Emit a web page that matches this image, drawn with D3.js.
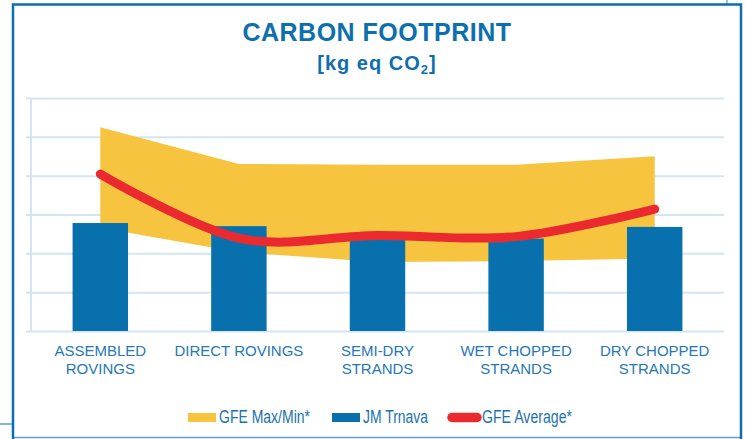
<!DOCTYPE html>
<html>
<head>
<meta charset="utf-8">
<script src="https://cdn.jsdelivr.net/npm/d3@7"></script>
<style>
  body { margin: 0; background: #fff; }
  svg { display: block; }
</style>
</head>
<body>
<svg class="mainSvg" width="745" height="439"></svg>
<script>
// chart values
var categories = ["ASSEMBLED ROVINGS", "DIRECT ROVINGS", "SEMI-DRY STRANDS", "WET CHOPPED STRANDS", "DRY CHOPPED STRANDS"];
var labelLines = [["ASSEMBLED", "ROVINGS"], ["DIRECT ROVINGS"], ["SEMI-DRY", "STRANDS"], ["WET CHOPPED", "STRANDS"], ["DRY CHOPPED", "STRANDS"]];
var gfeMax = [5.25, 4.30, 4.28, 4.28, 4.50];
var gfeMin = [2.66, 2.03, 1.78, 1.80, 1.87];
var jmTrnava = [2.78, 2.70, 2.36, 2.38, 2.68];
var gfeAverage = [4.04, 2.39, 2.46, 2.43, 3.14];
var yTicks = [0, 1, 2, 3, 4, 5, 6];
var legendNames = ["GFE Max/Min*", "JM Trnava", "GFE Average*"];

var blue = "#0871ad", yellow = "#f6c43f", red = "#ea2a2f", grid = "#d4e5f2";

var svg = d3.select(".mainSvg");

// frame
svg.append("line").attr("x1", 0).attr("x2", 13).attr("y1", 424).attr("y2", 424)
  .attr("stroke", "#86b6da").attr("stroke-width", 2);
svg.append("line").attr("x1", 727).attr("x2", 727).attr("y1", 0).attr("y2", 4)
  .attr("stroke", "#9cc4e2").attr("stroke-width", 2);
svg.append("line").attr("x1", 13).attr("x2", 741).attr("y1", 437.5).attr("y2", 437.5)
  .attr("stroke", "#5f9fcd").attr("stroke-width", 1.5);
svg.append("path").attr("d", "M13,439 V4.5 H741 V439")
  .attr("fill", "none").attr("stroke", "#0b6fae").attr("stroke-width", 2.5);

var x = d3.scaleBand().domain(categories).range([31, 724]).paddingInner(0.6).paddingOuter(0.3);
var y = d3.scaleLinear().domain([0, 6]).range([331, 98]);

// gridlines
var gAxis = svg.append("g").attr("transform", "translate(26,0)")
  .call(d3.axisLeft(y).tickValues(yTicks).tickSize(-(724 - 26)).tickFormat(""));
gAxis.select(".domain").remove();
gAxis.selectAll(".tick line").attr("stroke", grid).attr("stroke-width", 2);
svg.append("line").attr("x1", 31).attr("x2", 31).attr("y1", y(6)).attr("y2", y(0))
  .attr("stroke", grid).attr("stroke-width", 2);

var cx = function(d, i) { return x(categories[i]) + x.bandwidth() / 2; };

// max/min band
var area = d3.area()
  .x(function(d, i) { return cx(d, i); })
  .y0(function(d, i) { return y(gfeMin[i]); })
  .y1(function(d, i) { return y(gfeMax[i]); });
svg.append("path").datum(gfeMax).attr("d", area).attr("fill", yellow);

// bars
svg.selectAll("rect.bar").data(jmTrnava).enter().append("rect")
  .attr("class", "bar")
  .attr("x", function(d, i) { return x(categories[i]); })
  .attr("width", x.bandwidth())
  .attr("y", function(d) { return y(d); })
  .attr("height", function(d) { return y(0) - y(d); })
  .attr("fill", blue);

// average line (smoothed like excel)
var line = d3.line()
  .x(function(d, i) { return cx(d, i); })
  .y(function(d) { return y(d); })
  .curve(d3.curveCatmullRom.alpha(0));
svg.append("path").datum(gfeAverage).attr("d", line)
  .attr("fill", "none").attr("stroke", red).attr("stroke-width", 9)
  .attr("stroke-linecap", "round");

// titles
svg.append("text").attr("x", 377).attr("y", 40.7).attr("text-anchor", "middle")
  .attr("font-family", "'Liberation Sans', Arial, sans-serif").attr("font-weight", "bold")
  .attr("font-size", 25).attr("letter-spacing", 0.5).attr("fill", "#0e6fae")
  .text("CARBON FOOTPRINT");
var sub = svg.append("text").attr("x", 377).attr("y", 70).attr("text-anchor", "middle")
  .attr("font-family", "'Liberation Sans', Arial, sans-serif").attr("font-weight", "bold")
  .attr("font-size", 20).attr("letter-spacing", 1).attr("fill", "#0e6fae");
sub.append("tspan").text("[kg eq CO");
sub.append("tspan").attr("font-size", 13).attr("dy", 4).text("2");
sub.append("tspan").attr("dy", -4).text("]");

// category labels
labelLines.forEach(function(lines, i) {
  var t = svg.append("text").attr("text-anchor", "middle")
    .attr("font-family", "'Liberation Sans', Arial, sans-serif")
    .attr("font-size", 15).attr("fill", "#2677b5");
  lines.forEach(function(s, j) {
    t.append("tspan").attr("x", cx(null, i)).attr("y", 356 + j * 18).text(s);
  });
});

// legend
svg.append("rect").attr("x", 188).attr("y", 413).attr("width", 28).attr("height", 9).attr("fill", yellow);
svg.append("rect").attr("x", 332).attr("y", 413).attr("width", 28).attr("height", 9).attr("fill", blue);
svg.append("line").attr("x1", 452).attr("x2", 477).attr("y1", 417.5).attr("y2", 417.5)
  .attr("stroke", red).attr("stroke-width", 9.5).attr("stroke-linecap", "round");
var legendX = [219, 363, 482];
var legendW = [91, 65, 90];
legendNames.forEach(function(name, i) {
  svg.append("text").attr("x", legendX[i]).attr("y", 423.3)
    .attr("font-family", "'Liberation Sans', Arial, sans-serif").attr("font-size", 17.5)
    .attr("fill", "#1c72b0")
    .attr("textLength", legendW[i]).attr("lengthAdjust", "spacingAndGlyphs")
    .text(name);
});
</script>
</body>
</html>
